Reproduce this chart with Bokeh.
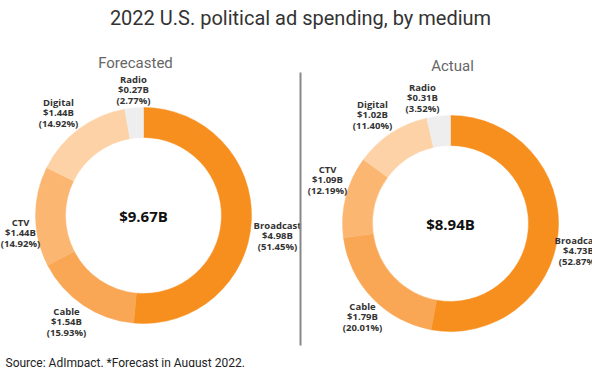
import math
from bokeh.plotting import figure
from bokeh.models import Range1d, ColumnDataSource
from bokeh.core.properties import value
from bokeh.embed import file_html
from bokeh.resources import INLINE

title = "2022 U.S. political ad spending, by medium"
source_note = "Source: AdImpact. *Forecast in August 2022."

media = ["Broadcast", "Cable", "CTV", "Digital", "Radio"]
colors = ["#F78F1E", "#F9A755", "#FBB672", "#FDD2A6", "#EEEEEE"]

forecast_values = ["$4.98B", "$1.54B", "$1.44B", "$1.44B", "$0.27B"]
forecast_pct = [51.45, 15.93, 14.92, 14.92, 2.77]
forecast_total = "$9.67B"

actual_values = ["$4.73B", "$1.79B", "$1.09B", "$1.02B", "$0.31B"]
actual_pct = [52.87, 20.01, 12.19, 11.40, 3.52]
actual_total = "$8.94B"

W, H = 592, 367
p = figure(width=W, height=H, output_backend="svg", toolbar_location=None,
           x_range=Range1d(0, W), y_range=Range1d(-H, 0),
           x_axis_location=None, y_axis_location=None, min_border=0)
p.outline_line_color = None
p.grid.visible = False
p.background_fill_color = "white"
p.border_fill_color = "white"

R_OUT, R_IN = 108, 78


def donut(cx, cy, pct, vals, total, label_pos):
    tot = sum(pct)
    starts, ends = [], []
    c = 0.0
    for v in pct:
        starts.append(math.pi / 2 - 2 * math.pi * c / tot)
        c += v
        ends.append(math.pi / 2 - 2 * math.pi * c / tot)
    src = ColumnDataSource(dict(x=[cx] * len(pct), y=[-cy] * len(pct),
                                s=starts, e=ends, color=colors))
    p.annular_wedge(x="x", y="y", inner_radius=R_IN, outer_radius=R_OUT,
                    start_angle="s", end_angle="e", direction="clock",
                    fill_color="color", line_color="color", line_width=0.5,
                    source=src)
    p.text(x=[cx], y=[-cy], text=[total], text_align="center",
           text_baseline="middle", text_font=value("Open Sans"),
           text_font_style="bold", text_font_size="15px", text_color="#111111")
    lx = [pt[0] for pt in label_pos]
    ly = [-pt[1] for pt in label_pos]
    lines = [list(media), list(vals), [f"({q:.2f}%)" for q in pct]]
    for i, txt in enumerate(lines):
        p.text(x=lx, y=ly, text=txt, y_offset=(i - 1) * 10.5,
               text_align="center", text_baseline="middle",
               text_font=value("Open Sans"), text_font_style="bold",
               text_font_size="9.5px", text_color="#333333")


donut(143, 215, forecast_pct, forecast_values, forecast_total,
      [(277, 235), (66, 321), (20, 232), (58, 112), (133, 89)])
donut(450, 223, actual_pct, actual_values, actual_total,
      [(578, 250), (362, 316), (327, 179), (372, 114), (422, 97)])

p.text(x=[300], y=[-17], text=[title], text_align="center", text_baseline="middle",
       text_font=value("Roboto"), text_font_size="20px", text_color="#333333")
p.text(x=[135, 452], y=[-62, -65], text=["Forecasted", "Actual"],
       text_align="center", text_baseline="middle",
       text_font=value("Roboto"), text_font_size="15px", text_color="#666666")
p.text(x=[5], y=[-362], text=[source_note], text_align="left", text_baseline="middle",
       text_font=value("Roboto"), text_font_size="12px", text_color="#222222")

p.segment(x0=[300], y0=[-72], x1=[300], y1=[-345], line_color="#888888", line_width=2)

open("out.html", "w").write(file_html(p, INLINE))
